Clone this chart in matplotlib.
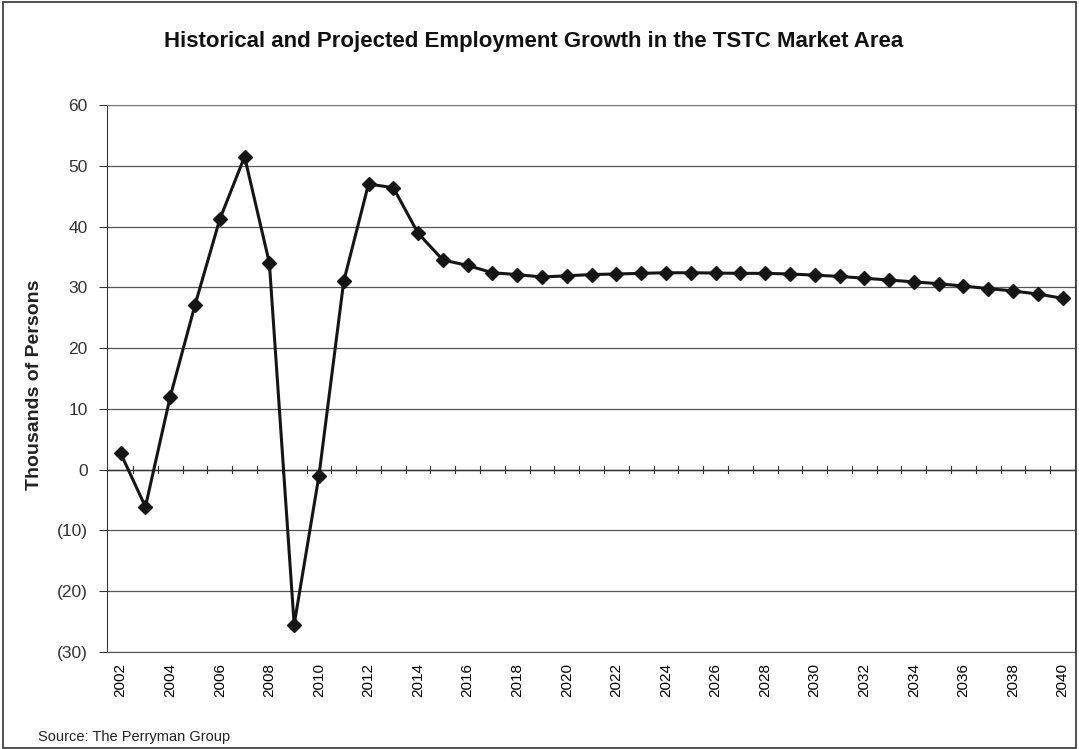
import matplotlib.pyplot as plt
from matplotlib.patches import Rectangle
from matplotlib.ticker import FuncFormatter

# years shown on the category axis
years = list(range(2002, 2041))
# employment growth, thousands of persons
growth = [2.7, -6.1, 12.0, 27.1, 41.2, 51.5, 34.0, -25.5, -1.0, 31.0,
          47.0, 46.4, 38.9, 34.5, 33.6, 32.4, 32.1, 31.7, 31.9, 32.1,
          32.2, 32.3, 32.4, 32.4, 32.35, 32.3, 32.3, 32.2, 32.0, 31.8,
          31.5, 31.2, 30.9, 30.6, 30.2, 29.8, 29.4, 28.9, 28.2]
y_ticks = [-30, -20, -10, 0, 10, 20, 30, 40, 50, 60]

plt.rcParams['font.family'] = ['Liberation Sans', 'DejaVu Sans']

fig = plt.figure(figsize=(10.79, 7.49), dpi=100)
ax = fig.add_axes([107 / 1079, 1 - 652 / 749, (1075 - 107) / 1079, (652 - 105) / 749])

xs = list(range(len(years)))
ax.plot(xs, growth, color='#151515', linewidth=2.2, marker='D', markersize=7,
        markerfacecolor='#151515', markeredgecolor='#151515', zorder=3)

ax.set_xlim(-0.55, len(years) - 0.5)
ax.set_ylim(-30, 60)
ax.set_yticks(y_ticks)
ax.yaxis.set_major_formatter(FuncFormatter(lambda v, p: "(%d)" % abs(v) if v < 0 else "%d" % v))
ax.grid(axis='y', color='#555555', linewidth=0.9)
ax.set_axisbelow(True)

# tick labels every other year, rotated
ax.set_xticks(xs[::2])
ax.set_xticklabels([str(y) for y in years[::2]], rotation=90, fontsize=11)
ax.tick_params(axis='x', length=0, pad=8)
ax.tick_params(axis='y', labelsize=12.5, length=6, direction='out', width=0.8, pad=8, colors='#333333')

# zero line with small cross ticks between categories
ax.axhline(0, color='#333333', linewidth=1.0, zorder=2)
for b in [i + 0.5 for i in range(len(years) - 1)]:
    ax.plot([b, b], [-0.6, 0.6], color='#333333', linewidth=0.8, zorder=2)

for side in ['top', 'right']:
    ax.spines[side].set_color('#777777')
ax.spines['left'].set_color('#333333')
ax.spines['bottom'].set_color('#555555')

fig.text(35 / 1079, 1 - 385 / 749, "Thousands of Persons", rotation=90, ha='center', va='center',
         fontsize=14, fontweight='bold', color='#222222')
fig.text(534 / 1079, 1 - 42 / 749, "Historical and Projected Employment Growth in the TSTC Market Area",
         ha='center', va='center', fontsize=16, fontweight='bold', color='#111111')
fig.text(38 / 1079, 1 - 737 / 749, "Source: The Perryman Group", ha='left', va='center',
         fontsize=10.5, color='#222222')

# border around whole chart
fig.patches.append(Rectangle((3 / 1079, 0.002), 1 - 6 / 1079, 0.995, transform=fig.transFigure,
                             fill=False, edgecolor='#333333', linewidth=1.2))

fig.savefig("out.png", dpi=100)
